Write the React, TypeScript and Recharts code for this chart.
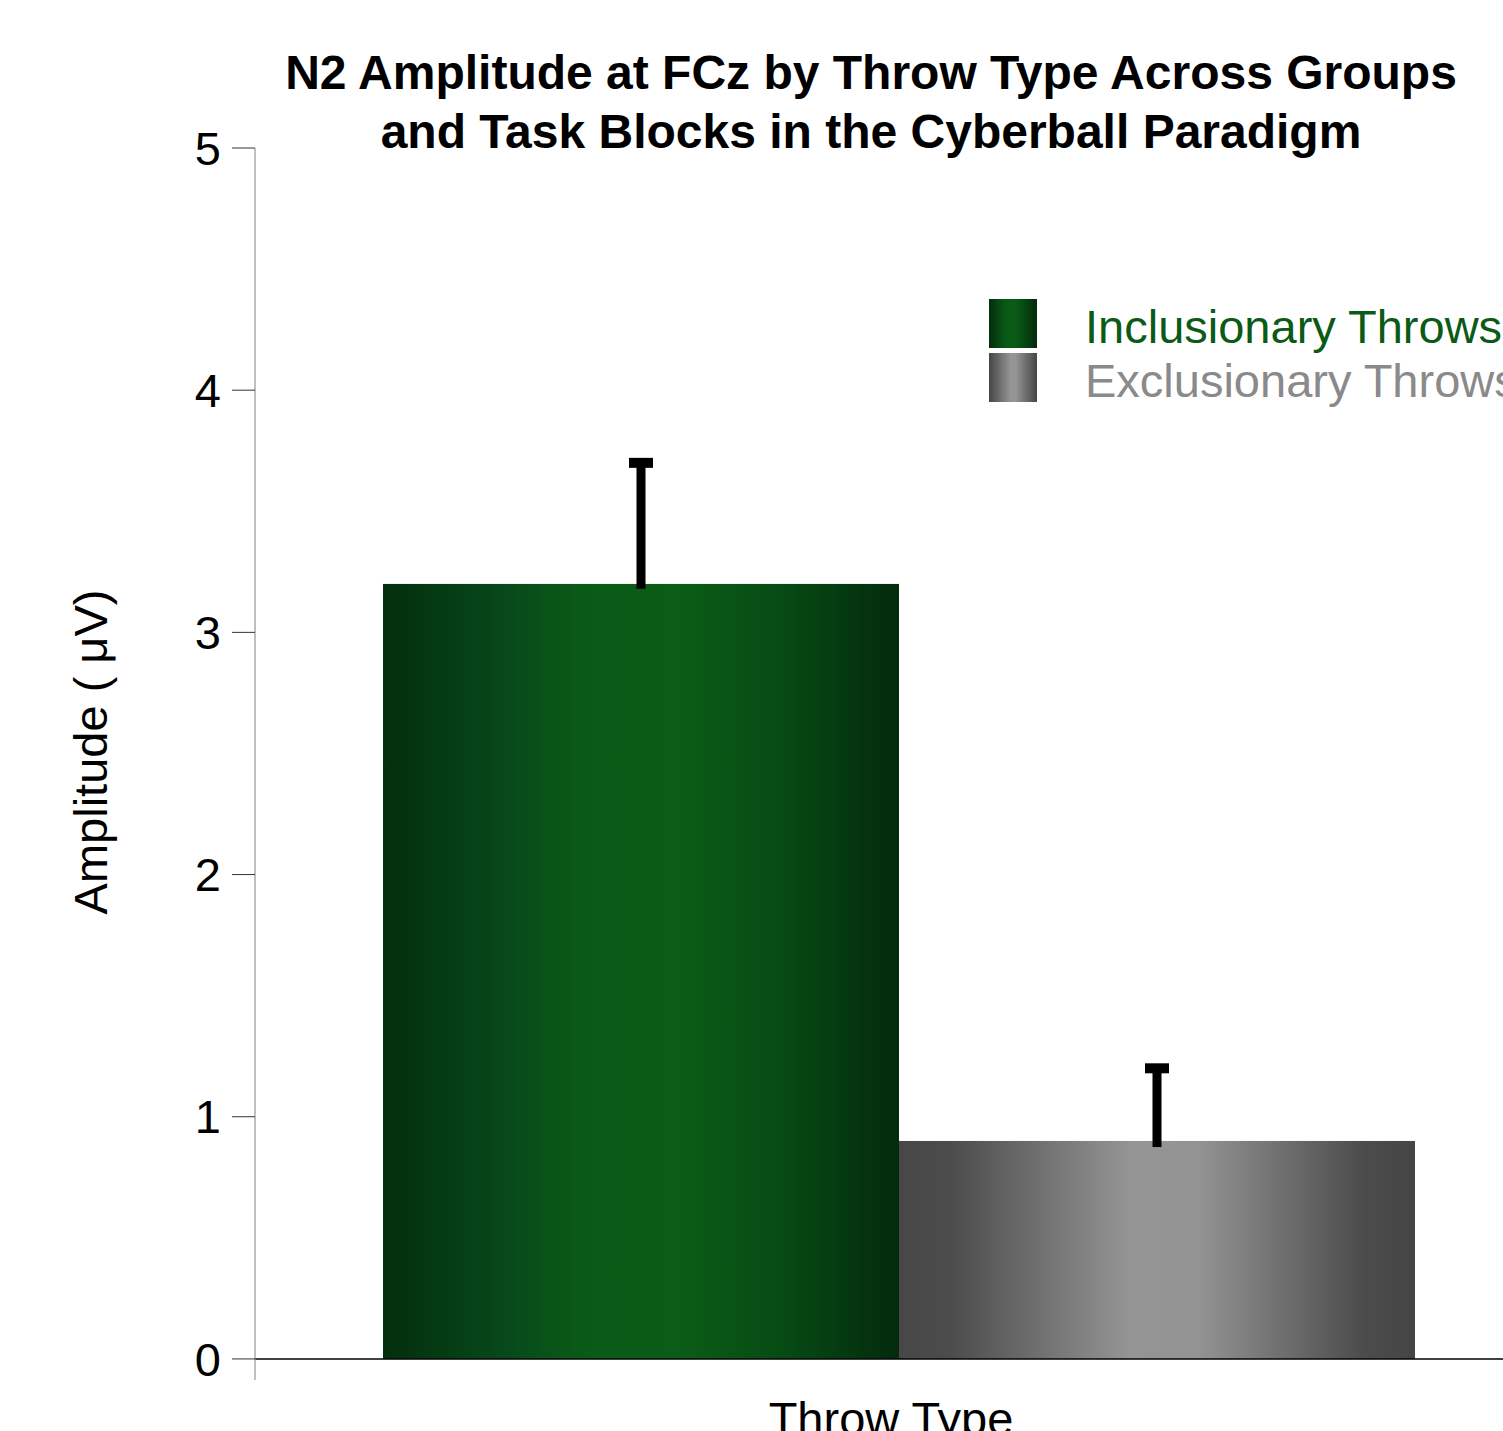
import { BarChart, Bar, XAxis, YAxis, ReferenceLine, Legend, Label } from 'recharts'

// 数据
const groups = ['Throw Type']
const inclusionary = [3.2]
const exclusionary = [0.9]
const inclusionaryErrUp = [0.5]
const inclusionaryErrDown = [0.02]
const exclusionaryErrUp = [0.3]
const exclusionaryErrDown = [0.025]
const yTicks = [0, 1, 2, 3, 4, 5]
const seriesNames = ['Inclusionary Throws', 'Exclusionary Throws']

const chartData = groups.map((g, i) => ({
  group: g,
  incl: inclusionary[i],
  excl: exclusionary[i],
  inclUp: inclusionaryErrUp[i],
  inclDown: inclusionaryErrDown[i],
  exclUp: exclusionaryErrUp[i],
  exclDown: exclusionaryErrDown[i]
}))

const FONT = '"Liberation Sans", Arial, sans-serif'

// 柱子 + 误差线
const makeShape =
  (valueKey: string, upKey: string, downKey: string, gradId: string) =>
  (props: any) => {
    const { x, y, width, height, payload } = props
    const v = payload[valueKey]
    const perUnit = v ? height / v : 0
    const top = y - payload[upKey] * perUnit
    const bottom = y + payload[downKey] * perUnit
    const cx = x + width / 2
    return (
      <g>
        <rect x={x} y={y} width={width} height={height} fill={`url(#${gradId})`} />
        <rect x={cx - 4.5} y={top} width={9} height={bottom - top} fill="#000" />
        <rect x={cx - 12} y={top - 5} width={24} height={10} fill="#000" />
      </g>
    )
  }

const LegendContent = () => (
  <div style={{ fontFamily: FONT, fontSize: 47 }}>
    {seriesNames.map((name, i) => (
      <div key={name} style={{ display: 'flex', alignItems: 'center', height: 54 }}>
        <span
          style={{
            width: 48,
            height: 49,
            flexShrink: 0,
            background:
              i === 0
                ? 'linear-gradient(to right, #032e0c, #0a5a17 35%, #0a5c16 55%, #032a0c)'
                : 'linear-gradient(to right, #454545, #959595 45%, #959595 55%, #454545)'
          }}
        />
        <span
          style={{
            marginLeft: 48,
            whiteSpace: 'nowrap',
            color: i === 0 ? '#0b5a16' : '#8a8a8a',
            lineHeight: '54px',
            position: 'relative',
            top: 4
          }}
        >
          {name}
        </span>
      </div>
    ))}
  </div>
)

export default function App() {
  return (
    <div
      style={{
        position: 'absolute',
        left: 0,
        top: 0,
        width: 1503,
        height: 1431,
        overflow: 'hidden',
        background: '#fff',
        fontFamily: FONT
      }}
    >
      <div
        style={{
          position: 'absolute',
          left: 171,
          top: 43,
          width: 1400,
          textAlign: 'center',
          fontWeight: 'bold',
          fontSize: 48,
          lineHeight: '59px',
          color: '#000',
          zIndex: 2
        }}
      >
        N2 Amplitude at FCz by Throw Type Across Groups
        <br />
        and Task Blocks in the Cyberball Paradigm
      </div>
      <BarChart
        width={1503}
        height={1431}
        data={chartData}
        margin={{ top: 148, right: 0, left: 0, bottom: 0 }}
        barGap={0}
        barCategoryGap={0}
      >
        <defs>
          <linearGradient id="gradIncl" x1="0" y1="0" x2="1" y2="0">
            <stop offset="0%" stopColor="#032e0c" />
            <stop offset="22%" stopColor="#07471a" />
            <stop offset="38%" stopColor="#0a5a17" />
            <stop offset="58%" stopColor="#0a5c16" />
            <stop offset="78%" stopColor="#074a14" />
            <stop offset="100%" stopColor="#032a0c" />
          </linearGradient>
          <linearGradient id="gradExcl" x1="0" y1="0" x2="1" y2="0">
            <stop offset="0%" stopColor="#474747" />
            <stop offset="10%" stopColor="#4c4c4c" />
            <stop offset="45%" stopColor="#959595" />
            <stop offset="58%" stopColor="#939393" />
            <stop offset="90%" stopColor="#4c4c4c" />
            <stop offset="100%" stopColor="#454545" />
          </linearGradient>
        </defs>
        <XAxis
          dataKey="group"
          tick={false}
          tickLine={false}
          axisLine={false}
          height={51}
          padding={{ left: 128, right: 89 }}
        >
          <Label
            value="Throw Type"
            position="insideTop"
            offset={22}
            dx={12}
            style={{ fontSize: 47, fill: '#000', fontFamily: FONT }}
          />
        </XAxis>
        <YAxis
          width={255}
          domain={[-0.087, 5]}
          ticks={yTicks}
          tickSize={23}
          tickMargin={11}
          tick={{ fontSize: 47, fill: '#000', fontFamily: FONT }}
          tickLine={{ stroke: '#333', strokeWidth: 1 }}
          axisLine={{ stroke: '#808080', strokeWidth: 1 }}
          allowDataOverflow
        >
          <Label
            value="Amplitude ( μV)"
            angle={-90}
            position="center"
            dx={-37}
            dy={-12}
            style={{ fontSize: 47, fill: '#000', fontFamily: FONT, textAnchor: 'middle' }}
          />
        </YAxis>
        <Legend
          layout="vertical"
          verticalAlign="middle"
          align="center"
          content={<LegendContent />}
          wrapperStyle={{ left: 989, top: 296, width: 520 }}
        />
        <Bar
          dataKey="incl"
          name={seriesNames[0]}
          isAnimationActive={false}
          shape={makeShape('incl', 'inclUp', 'inclDown', 'gradIncl')}
        />
        <Bar
          dataKey="excl"
          name={seriesNames[1]}
          isAnimationActive={false}
          shape={makeShape('excl', 'exclUp', 'exclDown', 'gradExcl')}
        />
        <ReferenceLine y={0} stroke="#000" strokeWidth={1.5} />
      </BarChart>
    </div>
  )
}
